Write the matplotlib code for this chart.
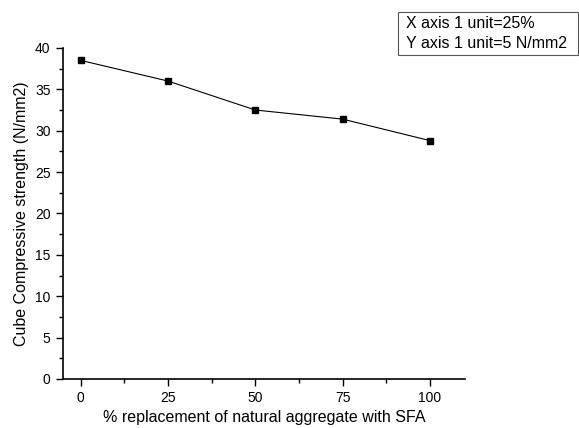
import matplotlib

matplotlib.use('Agg')
import matplotlib.pyplot as plt
from matplotlib.patches import Rectangle
from matplotlib.ticker import MultipleLocator

plt.rcParams['font.family'] = ['Liberation Sans', 'DejaVu Sans']

# データ
replacement = [0, 25, 50, 75, 100]
strength = [38.5, 36.0, 32.5, 31.4, 28.8]
note_lines = ['X axis 1 unit=25%', 'Y axis 1 unit=5 N/mm2']

fig = plt.figure(figsize=(5.79, 4.28), dpi=100)
ax = fig.add_axes([0.109, 0.1145, 0.694, 0.7735])

ax.plot(replacement, strength, 'ks-', linewidth=0.8, markersize=5)

ax.set_xlim(-5, 110)
ax.set_ylim(0, 40)
ax.xaxis.set_major_locator(MultipleLocator(25))
ax.xaxis.set_minor_locator(MultipleLocator(12.5))
ax.yaxis.set_major_locator(MultipleLocator(5))
ax.yaxis.set_minor_locator(MultipleLocator(2.5))

for side in ['top', 'right']:
    ax.spines[side].set_visible(False)
for side in ['left', 'bottom']:
    ax.spines[side].set_linewidth(1.2)

ax.tick_params(which='major', direction='out', length=5, width=1, labelsize=10, pad=4)
ax.tick_params(which='minor', direction='out', length=3, width=1)

ax.set_xlabel('% replacement of natural aggregate with SFA', fontsize=11.5, labelpad=3)
ax.set_ylabel('Cube Compressive strength (N/mm2)', fontsize=11.5, labelpad=4)

# 右上の注記ボックス
fig.patches.append(Rectangle((0.687, 0.8715), 0.311, 0.1005, transform=fig.transFigure,
                             facecolor='white', edgecolor='#555555', linewidth=0.8))
fig.text(0.701, 0.946, note_lines[0], fontsize=11.5, va='center', ha='left')
fig.text(0.701, 0.8995, note_lines[1], fontsize=11.5, va='center', ha='left')

fig.savefig('out.png', dpi=100)
